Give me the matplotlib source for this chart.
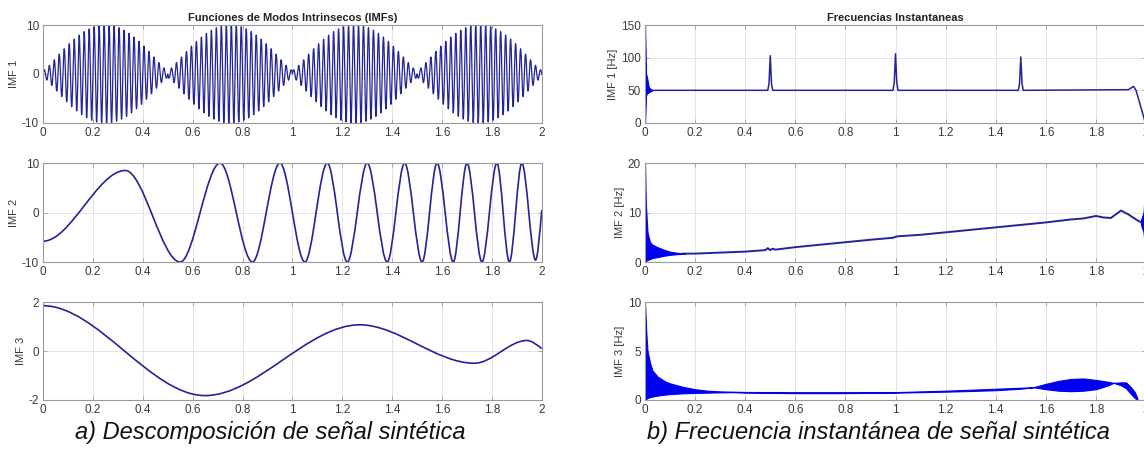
import numpy as np
import matplotlib
matplotlib.use("Agg")
import matplotlib.pyplot as plt
from matplotlib.path import Path
from matplotlib.patches import PathPatch

plt.rcParams['font.family'] = ['Liberation Sans', 'DejaVu Sans']
plt.rcParams['axes.unicode_minus'] = False

# ---- left panel: IMFs ----
# IMF 1: 50 Hz carrier with lobes of amplitude 10
imf1_freq = 50.0
imf1_peak_amp = 10.0
imf1_node_amp = 0.8          # small residual wiggle at the nodes 0, 0.5, 1, 1.5, 2
imf1_lobe_len = 0.5

# IMF 2: extrema (time, value)
imf2_t = [0.0, 0.33, 0.55, 0.71, 0.84, 0.95, 1.05, 1.14, 1.22, 1.30, 1.38, 1.45,
          1.52, 1.58, 1.645, 1.70, 1.76, 1.82, 1.87, 1.92, 1.975, 2.0]
imf2_v = [-5.8, 8.5, -10, 10, -10, 10, -10, 10, -10, 10, -10, 10,
          -10, 10, -10, 10, -10, 10, -10, 10, -9.6, 0.5]

# IMF 3: extrema (time, value)
imf3_t = [0.0, 0.65, 1.27, 1.73, 1.94, 2.0]
imf3_v = [1.85, -1.82, 1.07, -0.50, 0.43, 0.10]

# ---- right panel: instantaneous frequencies ----
if1_t = [0.03, 0.04, 0.49, 0.495, 0.5, 0.505, 0.51, 0.99, 0.995, 1.0, 1.005, 1.01,
         1.49, 1.495, 1.5, 1.505, 1.51, 1.93, 1.95, 1.96, 1.975, 1.99, 2.0]
if1_f = [50, 50, 50, 60, 103, 60, 50, 50, 62, 106, 62, 50,
         50, 60, 101, 60, 50, 51, 56, 50, 30, 10, -5]
if1_band_t = [0.0, 0.004, 0.008, 0.015, 0.025, 0.03]
if1_band_lo = [0, 42, 45, 47, 49, 50]
if1_band_hi = [150, 76, 70, 55, 51, 50]

if2_t = [0.15, 0.2, 0.3, 0.4, 0.48, 0.49, 0.5, 0.51, 0.52, 0.6, 0.7, 0.8, 0.9, 0.99,
         1.0, 1.01, 1.1, 1.2, 1.3, 1.4, 1.5, 1.6, 1.7, 1.75, 1.8, 1.83, 1.86, 1.9,
         1.93, 1.96, 1.98]
if2_f = [1.7, 1.7, 1.9, 2.1, 2.4, 2.8, 2.4, 2.7, 2.5, 3.0, 3.5, 4.0, 4.5, 4.9,
         5.1, 5.2, 5.5, 6.0, 6.5, 7.0, 7.5, 8.0, 8.6, 8.8, 9.3, 9.0, 8.9, 10.4,
         9.6, 8.6, 8.0]
if2_band_t = [0.0, 0.003, 0.01, 0.02, 0.03, 0.05, 0.08, 0.1, 0.13, 0.16]
if2_band_lo = [0, 0.2, 0.4, 0.6, 0.8, 1.0, 1.3, 1.45, 1.6, 1.65]
if2_band_hi = [20, 12, 6, 4.0, 3.5, 3.0, 2.4, 2.1, 1.85, 1.7]
if2_end_t = [1.98, 1.99, 1.995, 2.0]
if2_end_lo = [7.5, 6, 3, 0]
if2_end_hi = [8.5, 10, 14, 18]

if3_t = [0, 0.005, 0.01, 0.02, 0.03, 0.05, 0.08, 0.1, 0.15, 0.2, 0.25, 0.3, 0.35,
         0.4, 0.6, 0.8, 1.0, 1.1, 1.2, 1.3, 1.4, 1.5, 1.55, 1.6, 1.65, 1.7, 1.75,
         1.8, 1.85, 1.87, 1.9, 1.92, 1.94, 1.955, 1.965]
if3_lo = [0, 0.1, 0.2, 0.3, 0.35, 0.45, 0.55, 0.6, 0.68, 0.72, 0.75, 0.78, 0.8,
          0.75, 0.7, 0.7, 0.75, 0.8, 0.85, 0.92, 1.0, 1.15, 1.3, 1.1, 0.95, 0.9,
          0.95, 1.1, 1.5, 1.75, 1.5, 1.2, 0.6, 0.2, 0]
if3_hi = [10, 7, 5, 3.8, 3.0, 2.4, 1.9, 1.7, 1.35, 1.1, 0.95, 0.88, 0.85, 0.82,
          0.8, 0.8, 0.8, 0.88, 0.95, 1.05, 1.15, 1.25, 1.3, 1.65, 1.95, 2.15, 2.2,
          2.05, 1.85, 1.75, 1.8, 1.8, 1.3, 0.8, 0.2]

xticks = [0, 0.2, 0.4, 0.6, 0.8, 1, 1.2, 1.4, 1.6, 1.8, 2]
xlabels = ['0', '0.2', '0.4', '0.6', '0.8', '1', '1.2', '1.4', '1.6', '1.8', '2']

line_col = '#23239a'
fill_col = '#0000f0'
box_col = '#9a9a9a'
text_col = '#3a3a3a'


def extrema_path(t, v):
    # smooth curve through extrema: flat tangents at every extremum
    verts = [(t[0], v[0])]
    codes = [Path.MOVETO]
    for i in range(len(t) - 1):
        dt = t[i + 1] - t[i]
        c1 = (t[i] + dt / 3, v[i])
        if i == len(t) - 2:
            c2 = (t[i + 1] - dt / 3, v[i + 1] - (v[i + 1] - v[i]) * 0.45)
        else:
            c2 = (t[i + 1] - dt / 3, v[i + 1])
        verts += [c1, c2, (t[i + 1], v[i + 1])]
        codes += [Path.CURVE4] * 3
    return Path(verts, codes)


def style(ax, ylim, yticks, ylabel):
    ax.set_xlim(0, 2)
    ax.set_ylim(*ylim)
    ax.set_xticks(xticks)
    ax.set_xticklabels(xlabels)
    ax.set_yticks(yticks)
    ax.grid(True, color='#e4e4e4', linewidth=0.7)
    ax.set_axisbelow(True)
    ax.tick_params(direction='in', length=3, width=0.6, colors=box_col,
                   labelcolor=text_col, labelsize=8.5, top=True, right=True, pad=3)
    for s in ax.spines.values():
        s.set_color(box_col)
        s.set_linewidth(0.8)
    ax.set_ylabel(ylabel, fontsize=8, color=text_col, labelpad=2)


fig = plt.figure(figsize=(11.44, 4.53), dpi=100)
rows = [(0.7285, 0.2163), (0.4216, 0.2185), (0.117, 0.2163)]
left_x, left_w = 0.0376, 0.436
right_x, right_w = 0.5638, 0.438

# left column
axL = [fig.add_axes([left_x, b, left_w, h]) for b, h in rows]

t = np.linspace(0, 2, 8001)
env = np.sqrt((imf1_peak_amp * np.sin(np.pi * t / imf1_lobe_len)) ** 2 + imf1_node_amp ** 2)
sig1 = env * np.sign(np.sin(np.pi * t / imf1_lobe_len) + 1e-9) * np.sin(2 * np.pi * imf1_freq * t)
axL[0].plot(t, sig1, color=line_col, linewidth=0.9)
style(axL[0], (-10, 10), [-10, 0, 10], 'IMF 1')
axL[0].set_title('Funciones de Modos Intrinsecos (IMFs)', fontsize=8, fontweight='bold',
                 color='#222222', pad=3)

axL[1].add_patch(PathPatch(extrema_path(imf2_t, imf2_v), facecolor='none',
                           edgecolor=line_col, linewidth=1.2))
style(axL[1], (-10, 10), [-10, 0, 10], 'IMF 2')

axL[2].add_patch(PathPatch(extrema_path(imf3_t, imf3_v), facecolor='none',
                           edgecolor=line_col, linewidth=1.2))
style(axL[2], (-2, 2), [-2, 0, 2], 'IMF 3')

# right column
axR = [fig.add_axes([right_x, b, right_w, h]) for b, h in rows]

axR[0].fill_between(if1_band_t, if1_band_lo, if1_band_hi, color=fill_col, linewidth=0.8)
axR[0].plot(if1_t, if1_f, color=line_col, linewidth=1.1)
style(axR[0], (0, 150), [0, 50, 100, 150], 'IMF 1 [Hz]')
axR[0].set_title('Frecuencias Instantaneas', fontsize=8, fontweight='bold',
                 color='#222222', pad=3)

axR[1].fill_between(if2_band_t, if2_band_lo, if2_band_hi, color=fill_col, linewidth=0.8)
axR[1].fill_between(if2_end_t, if2_end_lo, if2_end_hi, color=fill_col, linewidth=0.8)
axR[1].plot(if2_t, if2_f, color=line_col, linewidth=1.4)
style(axR[1], (0, 20), [0, 10, 20], 'IMF 2 [Hz]')

axR[2].fill_between(if3_t, if3_lo, if3_hi, color=fill_col, linewidth=0.8)
style(axR[2], (0, 10), [0, 5, 10], 'IMF 3 [Hz]')

fig.text(270 / 1144, 1 - 433 / 453, 'a) Descomposición de señal sintética',
         fontsize=17, style='italic', ha='center', va='center', color='#111111')
fig.text(878 / 1144, 1 - 433 / 453, 'b) Frecuencia instantánea de señal sintética',
         fontsize=17, style='italic', ha='center', va='center', color='#111111')

fig.savefig('out.png', dpi=100)
